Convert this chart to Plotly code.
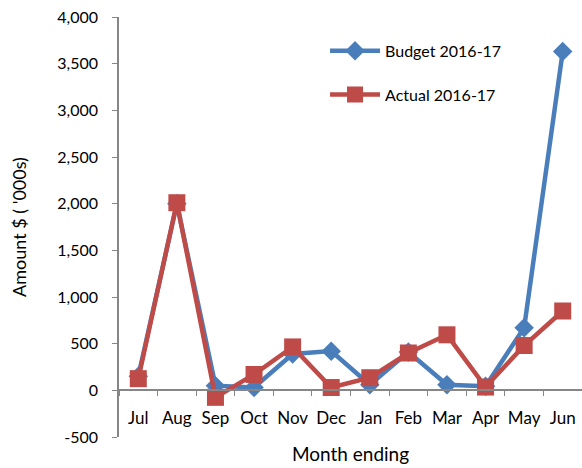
import plotly.graph_objects as go

months = ["Jul", "Aug", "Sep", "Oct", "Nov", "Dec", "Jan", "Feb", "Mar", "Apr", "May", "Jun"]
budget = [150, 2000, 50, 30, 390, 420, 60, 410, 60, 45, 670, 3630]
actual = [125, 2010, -75, 170, 465, 30, 135, 400, 595, 35, 480, 850]
y_tickvals = [-500, 0, 500, 1000, 1500, 2000, 2500, 3000, 3500, 4000]
y_ticktext = ["-500", "0", "500", "1,000", "1,500", "2,000", "2,500", "3,000", "3,500", "4,000"]

FONT = "Lato"
AX = "#868686"
BLUE = "#4A7EBB"
RED = "#BE4B48"

fig = go.Figure()
fig.add_trace(go.Scatter(x=months, y=budget, name="Budget 2016-17", mode="lines+markers",
                         legendgroup="b",
                         line=dict(color=BLUE, width=4.5),
                         marker=dict(symbol="diamond", size=15, color=BLUE)))
fig.add_trace(go.Scatter(x=months, y=actual, name="Actual 2016-17", mode="lines+markers",
                         legendgroup="a",
                         line=dict(color=RED, width=4.5),
                         marker=dict(symbol="square", size=17, color=RED)))

ymin, ymax = -500, 4000
fig.update_layout(
    width=582, height=468,
    margin=dict(l=119, r=0, t=17, b=31, autoexpand=False),
    paper_bgcolor="white", plot_bgcolor="white",
    font=dict(family=FONT, size=17, color="#000000"),
    showlegend=True,
    legend=dict(x=0.445, y=0.96, xanchor="left", yanchor="top",
                font=dict(family=FONT, size=16, color="#000000"),
                bgcolor="rgba(0,0,0,0)", itemwidth=50, tracegroupgap=20,
                traceorder="grouped"),
    xaxis=dict(
        type="category", categoryorder="array", categoryarray=months,
        range=[-0.5, len(months) - 0.5],
        anchor="free", position=(0 - ymin) / (ymax - ymin),
        showline=True, linecolor=AX, linewidth=1.5,
        ticks="outside", tickson="boundaries", ticklen=5, tickcolor=AX, tickwidth=1,
        showgrid=False, zeroline=False, tickangle=0, automargin=False,
        ticklabelstandoff=13,
        tickfont=dict(family=FONT, size=17),
        title=dict(text="Month ending", font=dict(family=FONT, size=19), standoff=19),
    ),
    yaxis=dict(
        range=[ymin, ymax],
        tickvals=y_tickvals, ticktext=y_ticktext,
        showline=True, linecolor=AX, linewidth=1.5,
        ticks="outside", ticklen=5, tickcolor=AX, tickwidth=1,
        showgrid=False, zeroline=False, automargin=False,
        ticklabelstandoff=11,
        tickfont=dict(family=FONT, size=16),
        title=dict(text="Amount $ ( '000s)", font=dict(family=FONT, size=18), standoff=26),
    ),
)

fig.write_html("out.html",
               config={"displayModeBar": False},
               post_script="document.body.style.margin='0';document.body.style.padding='0';")
